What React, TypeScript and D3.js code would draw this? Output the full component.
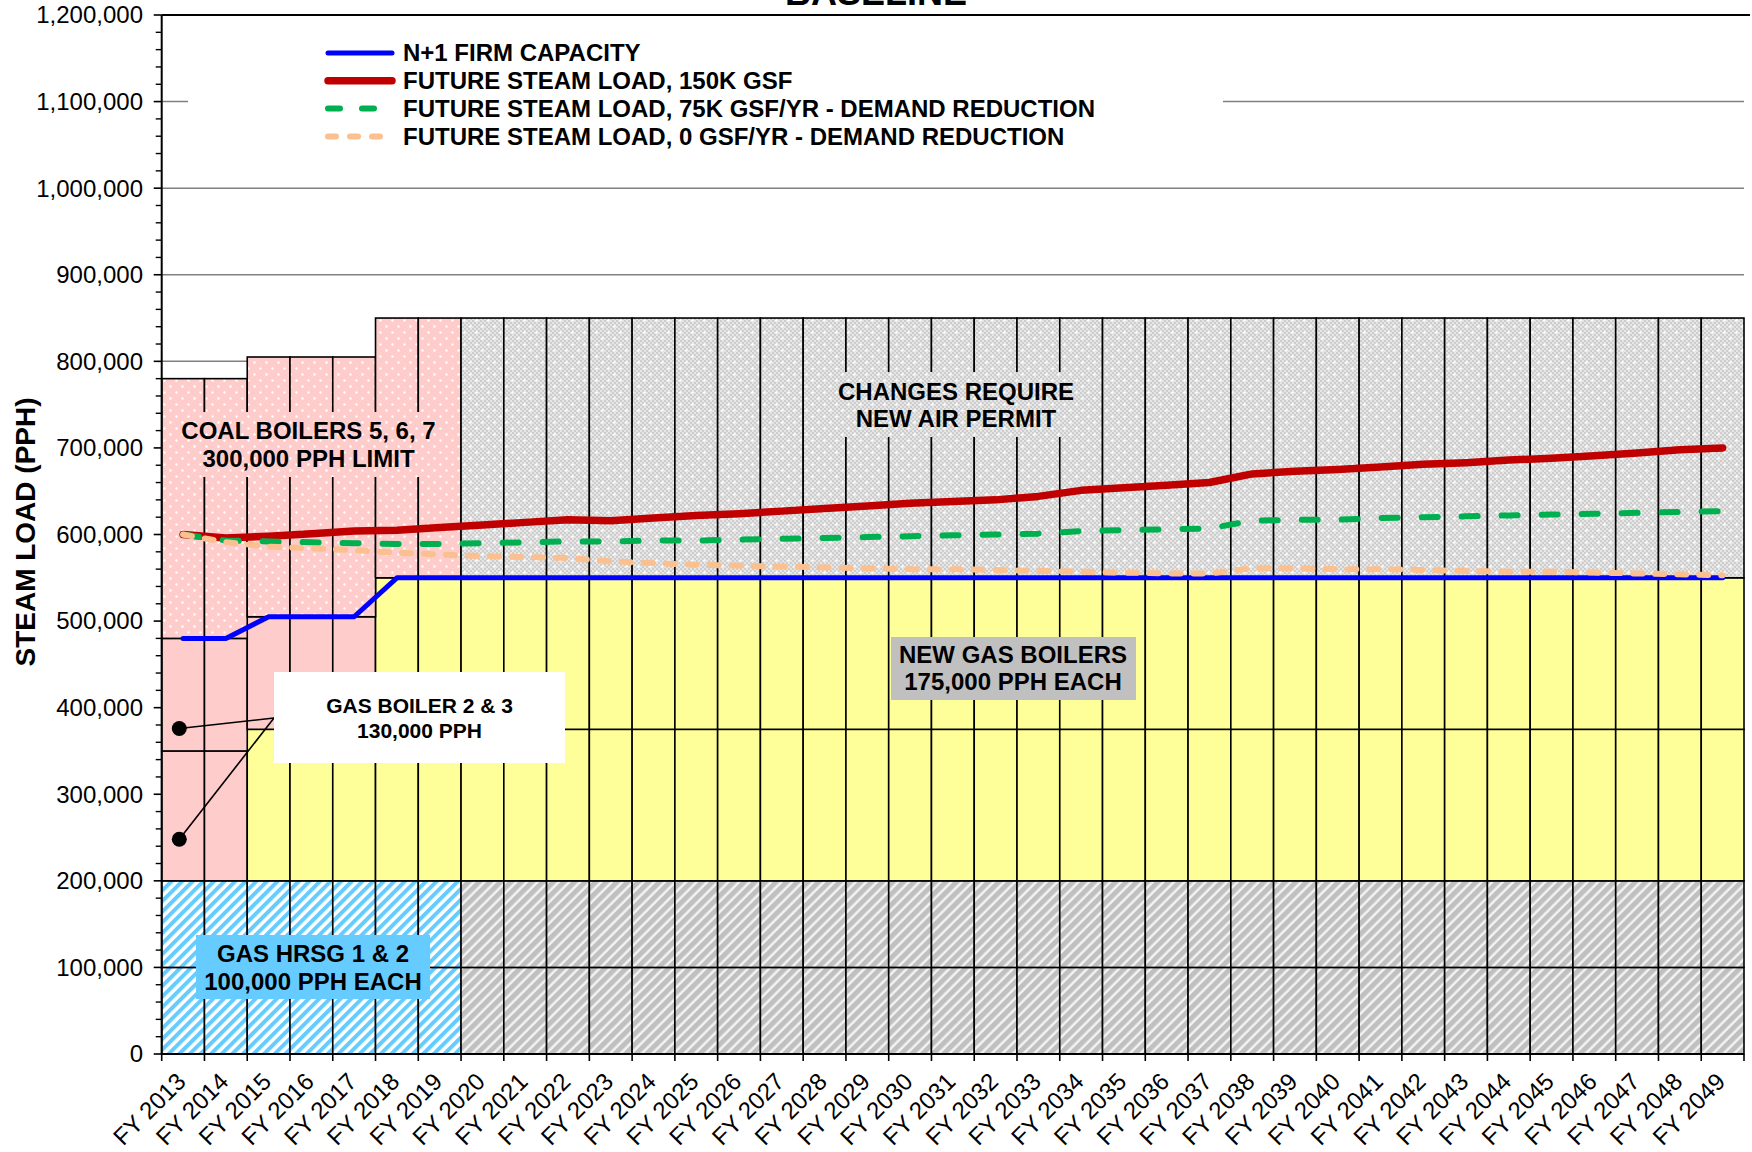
import React from 'react';
import * as d3 from 'd3';

const fyLabels = [
  'FY 2013', 'FY 2014', 'FY 2015', 'FY 2016', 'FY 2017', 'FY 2018', 'FY 2019', 'FY 2020',
  'FY 2021', 'FY 2022', 'FY 2023', 'FY 2024', 'FY 2025', 'FY 2026', 'FY 2027', 'FY 2028',
  'FY 2029', 'FY 2030', 'FY 2031', 'FY 2032', 'FY 2033', 'FY 2034', 'FY 2035', 'FY 2036',
  'FY 2037', 'FY 2038', 'FY 2039', 'FY 2040', 'FY 2041', 'FY 2042', 'FY 2043', 'FY 2044',
  'FY 2045', 'FY 2046', 'FY 2047', 'FY 2048', 'FY 2049',
];

// plant period per year: current plant up to FY2019, future after
const sitePeriod = [
  'current', 'current', 'current', 'current', 'current', 'current', 'current', 'future',
  'future', 'future', 'future', 'future', 'future', 'future', 'future', 'future',
  'future', 'future', 'future', 'future', 'future', 'future', 'future', 'future',
  'future', 'future', 'future', 'future', 'future', 'future', 'future', 'future',
  'future', 'future', 'future', 'future', 'future',
];

// stacked capacity blocks (PPH)
const hrsgUnit1 = [
  100000, 100000, 100000, 100000, 100000, 100000, 100000, 100000, 100000, 100000,
  100000, 100000, 100000, 100000, 100000, 100000, 100000, 100000, 100000, 100000,
  100000, 100000, 100000, 100000, 100000, 100000, 100000, 100000, 100000, 100000,
  100000, 100000, 100000, 100000, 100000, 100000, 100000,
];
const hrsgUnit2 = [
  100000, 100000, 100000, 100000, 100000, 100000, 100000, 100000, 100000, 100000,
  100000, 100000, 100000, 100000, 100000, 100000, 100000, 100000, 100000, 100000,
  100000, 100000, 100000, 100000, 100000, 100000, 100000, 100000, 100000, 100000,
  100000, 100000, 100000, 100000, 100000, 100000, 100000,
];
const boilerA = [
  150000, 150000, 175000, 175000, 175000, 175000, 175000, 175000, 175000, 175000,
  175000, 175000, 175000, 175000, 175000, 175000, 175000, 175000, 175000, 175000,
  175000, 175000, 175000, 175000, 175000, 175000, 175000, 175000, 175000, 175000,
  175000, 175000, 175000, 175000, 175000, 175000, 175000,
];
const boilerB = [
  130000, 130000, 130000, 130000, 130000, 175000, 175000, 175000, 175000, 175000,
  175000, 175000, 175000, 175000, 175000, 175000, 175000, 175000, 175000, 175000,
  175000, 175000, 175000, 175000, 175000, 175000, 175000, 175000, 175000, 175000,
  175000, 175000, 175000, 175000, 175000, 175000, 175000,
];
const coalBoilers = [
  300000, 300000, 300000, 300000, 300000, 300000, 300000, 300000, 300000, 300000,
  300000, 300000, 300000, 300000, 300000, 300000, 300000, 300000, 300000, 300000,
  300000, 300000, 300000, 300000, 300000, 300000, 300000, 300000, 300000, 300000,
  300000, 300000, 300000, 300000, 300000, 300000, 300000,
];
const boilerAKind = [
  'existing', 'existing', 'new', 'new', 'new', 'new', 'new', 'new', 'new', 'new',
  'new', 'new', 'new', 'new', 'new', 'new', 'new', 'new', 'new', 'new',
  'new', 'new', 'new', 'new', 'new', 'new', 'new', 'new', 'new', 'new',
  'new', 'new', 'new', 'new', 'new', 'new', 'new',
];
const boilerBKind = [
  'existing', 'existing', 'existing', 'existing', 'existing', 'new', 'new', 'new', 'new', 'new',
  'new', 'new', 'new', 'new', 'new', 'new', 'new', 'new', 'new', 'new',
  'new', 'new', 'new', 'new', 'new', 'new', 'new', 'new', 'new', 'new',
  'new', 'new', 'new', 'new', 'new', 'new', 'new',
];

// line series
const firmCapacity = [
  480000, 480000, 505000, 505000, 505000, 550000, 550000, 550000, 550000, 550000,
  550000, 550000, 550000, 550000, 550000, 550000, 550000, 550000, 550000, 550000,
  550000, 550000, 550000, 550000, 550000, 550000, 550000, 550000, 550000, 550000,
  550000, 550000, 550000, 550000, 550000, 550000, 550000,
];
const load150k = [
  600000, 596000, 598000, 601000, 604000, 605000, 608000, 611000, 614000, 617000,
  616000, 619000, 622000, 624000, 627000, 630000, 633000, 636000, 638000, 640000,
  644000, 651000, 654000, 657000, 660000, 670000, 673000, 675000, 678000, 681000,
  683000, 686000, 688000, 691000, 694000, 698000, 700000,
];
const load75k = [
  600000, 593000, 592000, 591000, 590000, 589000, 589000, 590000, 591000, 592000,
  592000, 593000, 593000, 594000, 595000, 596000, 597000, 598000, 599000, 600000,
  601000, 604000, 605000, 606000, 607000, 616000, 617000, 617000, 619000, 620000,
  621000, 622000, 623000, 624000, 625000, 626000, 627000,
];
const load0 = [
  600000, 591000, 586000, 584000, 582000, 579000, 577000, 575000, 574000, 573000,
  569000, 567000, 565000, 564000, 563000, 562000, 561000, 560000, 560000, 559000,
  558000, 557000, 556000, 555000, 555000, 561000, 561000, 560000, 560000, 559000,
  558000, 557000, 557000, 556000, 555000, 554000, 553000,
];

const legendLabels = [
  'N+1 FIRM CAPACITY',
  'FUTURE STEAM LOAD, 150K GSF',
  'FUTURE STEAM LOAD, 75K GSF/YR - DEMAND REDUCTION',
  'FUTURE STEAM LOAD, 0 GSF/YR - DEMAND REDUCTION',
];

const FONT = "'Liberation Sans', Arial, Helvetica, sans-serif";
const W = 1752;
const H = 1152;
const left = 161.7;
const right = 1744;
const top = 15;
const bottom = 1054;

const lineStyles = [
  { color: '#0000FF', width: 5, dash: undefined as string | undefined },
  { color: '#C00000', width: 7.5, dash: undefined as string | undefined },
  { color: '#00B050', width: 6, dash: '16 24' },
  { color: '#FAC090', width: 6, dash: '9 13' },
];

function fillFor(key: string, i: number) {
  if (key === 'hrsg1' || key === 'hrsg2') return sitePeriod[i] === 'current' ? 'url(#blueStripe)' : 'url(#grayStripe)';
  if (key === 'boilerA') return boilerAKind[i] === 'existing' ? '#FFCCCC' : '#FFFF99';
  if (key === 'boilerB') return boilerBKind[i] === 'existing' ? '#FFCCCC' : '#FFFF99';
  return sitePeriod[i] === 'current' ? 'url(#pinkDots)' : 'url(#grayDots)';
}

export default function App() {
  const x = d3.scaleBand<string>().domain(fyLabels).range([left, right]).padding(0);
  const y = d3.scaleLinear().domain([0, 1200000]).range([bottom, top]);
  const bw = x.bandwidth();
  const cx = (i: number) => (x(fyLabels[i]) as number) + bw / 2;

  const rows = fyLabels.map((fy, i) => ({
    fy,
    hrsg1: hrsgUnit1[i],
    hrsg2: hrsgUnit2[i],
    boilerA: boilerA[i],
    boilerB: boilerB[i],
    coal: coalBoilers[i],
  }));
  const keys = ['hrsg1', 'hrsg2', 'boilerA', 'boilerB', 'coal'];
  const stacked = d3.stack<any>().keys(keys)(rows);

  const line = d3.line<number>().x((_, i) => cx(i)).y(d => y(d));
  const seriesData = [firmCapacity, load150k, load75k, load0];

  const majorTicks = d3.range(0, 1200001, 100000);
  const minorTicks = d3.range(0, 1200001, 20000).filter(v => v % 100000 !== 0);
  const fmt = d3.format(',');

  const bold = { fontFamily: FONT, fontWeight: 700 as const };

  return (
    <div style={{ width: W, height: H }}>
      <style>{'body{margin:0}'}</style>
      <svg width={W} height={H} viewBox={`0 0 ${W} ${H}`} style={{ display: 'block', background: '#fff' }}>
        <defs>
          <pattern id="blueStripe" width="7.5" height="7.5" patternUnits="userSpaceOnUse" patternTransform="rotate(45)">
            <rect width="7.5" height="7.5" fill="#fff" />
            <rect width="4" height="7.5" fill="#66CCFF" />
          </pattern>
          <pattern id="grayStripe" width="7.5" height="7.5" patternUnits="userSpaceOnUse" patternTransform="rotate(45)">
            <rect width="7.5" height="7.5" fill="#F2F2F2" />
            <rect width="5" height="7.5" fill="#C0C0C0" />
          </pattern>
          <pattern id="checker" width="4" height="4" patternUnits="userSpaceOnUse">
            <rect width="4" height="4" fill="#E6E6E6" />
            <rect width="2" height="2" fill="#CDCDCD" />
            <rect x="2" y="2" width="2" height="2" fill="#CDCDCD" />
          </pattern>
          <pattern id="pinkDots" width="12" height="12" patternUnits="userSpaceOnUse">
            <rect width="12" height="12" fill="#FFCCCC" />
            <circle cx="2.5" cy="2.5" r="1.2" fill="#fff" />
            <circle cx="8.5" cy="8.5" r="1.2" fill="#fff" />
          </pattern>
          <pattern id="grayDots" width="12" height="12" patternUnits="userSpaceOnUse">
            <rect width="12" height="12" fill="url(#checker)" />
            <circle cx="2.5" cy="2.5" r="1.3" fill="#fff" />
            <circle cx="8.5" cy="8.5" r="1.3" fill="#fff" />
          </pattern>
        </defs>

        {/* title (mostly above the frame) */}
        <text x={876} y={5} textAnchor="middle" fontSize={36} style={bold}>BASELINE</text>

        {/* gridlines */}
        {majorTicks.map(v => (
          <line key={`g${v}`} x1={left} x2={right} y1={y(v)} y2={y(v)} stroke="#808080" strokeWidth={1.5} />
        ))}

        {/* stacked capacity columns */}
        {stacked.map(s => (
          <g key={s.key}>
            {s.map((d, i) => (
              <rect
                key={i}
                x={x(fyLabels[i])}
                y={y(d[1])}
                width={bw}
                height={y(d[0]) - y(d[1])}
                fill={fillFor(s.key, i)}
                stroke="#000"
                strokeWidth={1.6}
              />
            ))}
          </g>
        ))}

        {/* plot frame top */}
        <line x1={left} x2={W - 2} y1={top} y2={top} stroke="#000" strokeWidth={2} />

        {/* label boxes */}
        <rect x={172} y={412} width={273} height={65} fill="url(#pinkDots)" />
        <text x={308.5} y={431} textAnchor="middle" dy="0.35em" fontSize={24} style={bold}>COAL BOILERS 5, 6, 7</text>
        <text x={308.5} y={459} textAnchor="middle" dy="0.35em" fontSize={24} style={bold}>300,000 PPH LIMIT</text>

        <rect x={830} y={372} width={252} height={65} fill="url(#grayDots)" />
        <text x={956} y={391.5} textAnchor="middle" dy="0.35em" fontSize={24} style={bold}>CHANGES REQUIRE</text>
        <text x={956} y={418.5} textAnchor="middle" dy="0.35em" fontSize={24} style={bold}>NEW AIR PERMIT</text>

        <rect x={891} y={637} width={245} height={63} fill="#C0C0C0" />
        <text x={1013} y={654.5} textAnchor="middle" dy="0.35em" fontSize={24} style={bold}>NEW GAS BOILERS</text>
        <text x={1013} y={682} textAnchor="middle" dy="0.35em" fontSize={24} style={bold}>175,000 PPH EACH</text>

        <rect x={196} y={935} width={234} height={64} fill="#66CCFF" />
        <text x={313} y={953.5} textAnchor="middle" dy="0.35em" fontSize={24} style={bold}>GAS HRSG 1 &amp; 2</text>
        <text x={313} y={981.5} textAnchor="middle" dy="0.35em" fontSize={24} style={bold}>100,000 PPH EACH</text>

        {/* gas boiler callout */}
        <line x1={179.3} y1={y(376000)} x2={274} y2={718} stroke="#000" strokeWidth={1.6} />
        <line x1={179.3} y1={y(248000)} x2={274} y2={718} stroke="#000" strokeWidth={1.6} />
        <circle cx={179.3} cy={y(376000)} r={7.5} fill="#000" />
        <circle cx={179.3} cy={y(248000)} r={7.5} fill="#000" />
        <rect x={274} y={672} width={291} height={91} fill="#fff" />
        <text x={419.5} y={706} textAnchor="middle" dy="0.35em" fontSize={21} style={bold}>GAS BOILER 2 &amp; 3</text>
        <text x={419.5} y={731} textAnchor="middle" dy="0.35em" fontSize={21} style={bold}>130,000 PPH</text>

        {/* lines */}
        {seriesData.map((vals, k) => (
          <path
            key={`l${k}`}
            d={line(vals) as string}
            fill="none"
            stroke={lineStyles[k].color}
            strokeWidth={lineStyles[k].width}
            strokeDasharray={lineStyles[k].dash}
            strokeLinecap="round"
            strokeLinejoin="round"
          />
        ))}

        {/* y axis */}
        <line x1={left} x2={left} y1={top} y2={bottom} stroke="#000" strokeWidth={2} />
        {majorTicks.map(v => (
          <g key={`t${v}`}>
            <line x1={left - 8} x2={left} y1={y(v)} y2={y(v)} stroke="#000" strokeWidth={1.6} />
            <text x={143} y={y(v)} dy="0.35em" textAnchor="end" fontSize={24} fontFamily={FONT}>{fmt(v)}</text>
          </g>
        ))}
        {minorTicks.map(v => (
          <line key={`m${v}`} x1={left - 6} x2={left} y1={y(v)} y2={y(v)} stroke="#000" strokeWidth={1.4} />
        ))}
        <text transform={`translate(35,532) rotate(-90)`} textAnchor="middle" fontSize={28} style={bold}>STEAM LOAD (PPH)</text>

        {/* x axis */}
        <line x1={left} x2={right} y1={bottom} y2={bottom} stroke="#000" strokeWidth={2} />
        {fyLabels.map(fy => (
          <line key={`xt${fy}`} x1={x(fy)} x2={x(fy)} y1={bottom} y2={bottom + 7} stroke="#000" strokeWidth={1.6} />
        ))}
        <line x1={right} x2={right} y1={bottom} y2={bottom + 7} stroke="#000" strokeWidth={1.6} />
        {fyLabels.map((fy, i) => (
          <text
            key={`xl${fy}`}
            transform={`translate(${cx(i) + 4},1083) rotate(-45)`}
            textAnchor="end"
            fontSize={24}
            fontFamily={FONT}
          >
            {fy}
          </text>
        ))}

        {/* legend */}
        <rect x={188} y={36} width={1035} height={114} fill="#fff" />
        {legendLabels.map((lab, k) => {
          const ly = 53 + k * 27.8;
          return (
            <g key={lab}>
              <line
                x1={328}
                x2={392}
                y1={ly}
                y2={ly}
                stroke={lineStyles[k].color}
                strokeWidth={lineStyles[k].width}
                strokeDasharray={k === 2 ? '12 22' : k === 3 ? '8 14' : undefined}
                strokeLinecap="round"
              />
              <text x={403} y={ly} dy="0.35em" fontSize={24} style={bold}>{lab}</text>
            </g>
          );
        })}
      </svg>
    </div>
  );
}
